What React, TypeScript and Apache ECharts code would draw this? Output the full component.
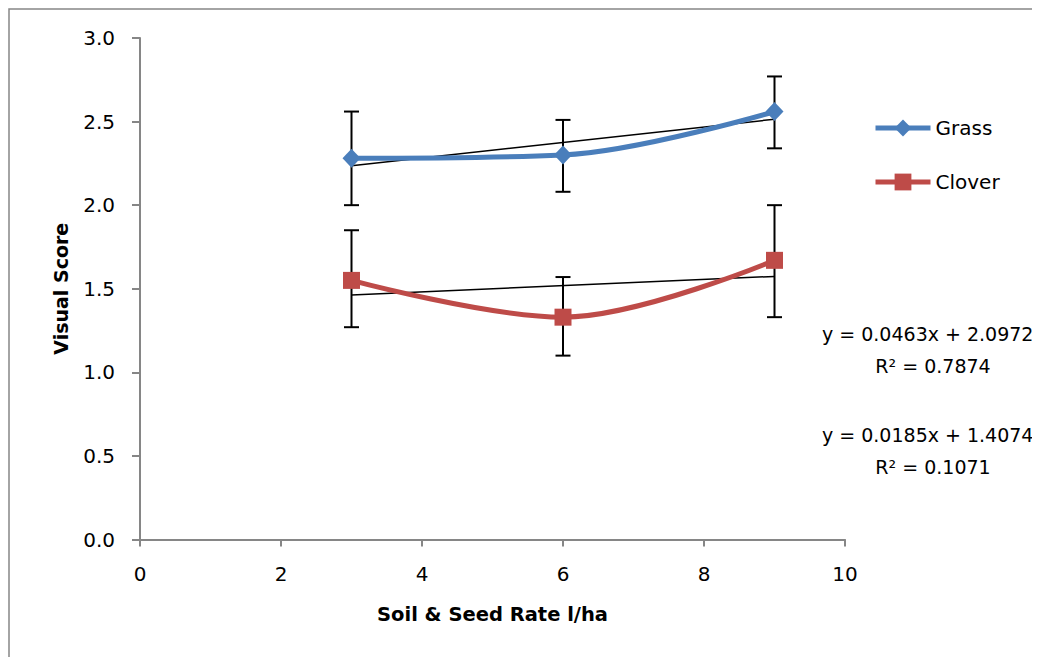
import * as echarts from 'echarts'
import { useEffect, useRef } from 'react'

// x positions (Soil & Seed Rate l/ha)
const rates = [3, 6, 9]

// mean visual scores
const grassScores = [2.28, 2.3, 2.56]
const cloverScores = [1.55, 1.33, 1.67]

// error bar limits [low, high]
const grassErrors = [
	[2.0, 2.56],
	[2.08, 2.51],
	[2.34, 2.77],
]
const cloverErrors = [
	[1.27, 1.85],
	[1.1, 1.57],
	[1.33, 2.0],
]

// linear trendline end values at x = 3 and x = 9
const trendRates = [3, 9]
const grassTrend = [2.236, 2.514]
const cloverTrend = [1.463, 1.574]

const grassLabels = ['y = 0.0463x + 2.0972', 'R² = 0.7874']
const cloverLabels = ['y = 0.0185x + 1.4074', 'R² = 0.1071']

const FONT = 'DejaVu Sans'
const AXIS_GREY = '#868686'
const BLUE = '#4A7EBB'
const RED = '#BE4B48'

const errorBarSeries = (name: string, errs: number[][]) => ({
	type: 'custom',
	name,
	z: 3,
	encode: { x: 0, y: [1, 2] },
	data: rates.map((x, i) => [x, errs[i][0], errs[i][1]]),
	renderItem: (_params: any, api: any) => {
		const x = api.value(0)
		const lo = api.coord([x, api.value(1)])
		const hi = api.coord([x, api.value(2)])
		const w = 7.5
		const style = { stroke: '#000', lineWidth: 2 }
		return {
			type: 'group',
			children: [
				{ type: 'line', shape: { x1: lo[0], y1: lo[1], x2: hi[0], y2: hi[1] }, style },
				{ type: 'line', shape: { x1: hi[0] - w, y1: hi[1], x2: hi[0] + w, y2: hi[1] }, style },
				{ type: 'line', shape: { x1: lo[0] - w, y1: lo[1], x2: lo[0] + w, y2: lo[1] }, style },
			],
		}
	},
})

const trendSeries = (name: string, vals: number[]) => ({
	type: 'line',
	name,
	z: 4,
	symbol: 'none',
	lineStyle: { color: '#000', width: 1.5 },
	data: trendRates.map((x, i) => [x, vals[i]]),
})

const eqText = (text: string, top: number) => ({
	type: 'text',
	left: 814,
	top,
	style: { text, fontFamily: FONT, fontSize: 19, fill: '#000' },
})

const r2Text = (text: string, y: number) => ({
	type: 'text',
	x: 925,
	y,
	style: {
		text,
		fontFamily: FONT,
		fontSize: 19,
		fill: '#000',
		align: 'center',
		verticalAlign: 'middle',
	},
})

const App = () => {
	const chartRef = useRef(null)

	useEffect(() => {
		document.body.style.overflow = 'hidden'
		const myChart = echarts.init(chartRef.current, null, { renderer: 'svg' })

		const option = {
			animation: false,
			backgroundColor: '#fff',
			textStyle: { fontFamily: FONT },
			grid: { left: 132, top: 30, right: 195, bottom: 117.5 },
			legend: {
				data: ['Grass', 'Clover'],
				orient: 'vertical',
				left: 860,
				top: 105,
				itemWidth: 55,
				itemHeight: 21,
				itemGap: 34,
				lineStyle: { width: 5 },
				textStyle: { fontFamily: FONT, fontSize: 20, color: '#000' },
			},
			xAxis: {
				type: 'value',
				min: 0,
				max: 10,
				interval: 2,
				name: 'Soil & Seed Rate l/ha',
				nameLocation: 'middle',
				nameGap: 65,
				nameTextStyle: { fontFamily: FONT, fontSize: 19.5, fontWeight: 'bold', color: '#000' },
				axisLine: { lineStyle: { color: AXIS_GREY, width: 2 } },
				axisTick: { length: 7, lineStyle: { color: AXIS_GREY, width: 2 } },
				axisLabel: { color: '#000', fontSize: 20, margin: 24 },
				splitLine: { show: false },
			},
			yAxis: {
				type: 'value',
				min: 0,
				max: 3,
				interval: 0.5,
				name: 'Visual Score',
				nameLocation: 'middle',
				nameGap: 70,
				nameTextStyle: { fontFamily: FONT, fontSize: 19, fontWeight: 'bold', color: '#000' },
				axisLine: { show: true, lineStyle: { color: AXIS_GREY, width: 2 } },
				axisTick: { show: true, length: 8, lineStyle: { color: AXIS_GREY, width: 2 } },
				axisLabel: {
					color: '#000',
					fontSize: 20,
					margin: 25,
					formatter: (v: number) => v.toFixed(1),
				},
				splitLine: { show: false },
			},
			graphic: [
				{
					type: 'rect',
					silent: true,
					shape: { x: 1, y: 1, width: 3000, height: 3000 },
					style: { fill: 'none', stroke: AXIS_GREY, lineWidth: 1.5 },
				},
				eqText(grassLabels[0], 316),
				r2Text(grassLabels[1], 358),
				eqText(cloverLabels[0], 417),
				r2Text(cloverLabels[1], 459),
			],
			series: [
				errorBarSeries('Grass error', grassErrors),
				errorBarSeries('Clover error', cloverErrors),
				trendSeries('Grass trend', grassTrend),
				trendSeries('Clover trend', cloverTrend),
				{
					type: 'line',
					name: 'Grass',
					z: 5,
					smooth: 0.35,
					symbol: 'diamond',
					symbolSize: [18, 19],
					color: BLUE,
					itemStyle: { color: BLUE },
					lineStyle: { color: BLUE, width: 5 },
					data: rates.map((x, i) => [x, grassScores[i]]),
				},
				{
					type: 'line',
					name: 'Clover',
					z: 5,
					smooth: 0.35,
					symbol: 'rect',
					symbolSize: 17,
					color: RED,
					itemStyle: { color: RED },
					lineStyle: { color: RED, width: 5 },
					data: rates.map((x, i) => [x, cloverScores[i]]),
				},
			],
		}

		myChart.setOption(option)

		const handleResize = () => myChart.resize()
		window.addEventListener('resize', handleResize)

		return () => {
			myChart.dispose()
			window.removeEventListener('resize', handleResize)
		}
	}, [])

	return <div ref={chartRef} style={{ width: '1032px', height: '649px' }} />
}

export default App
